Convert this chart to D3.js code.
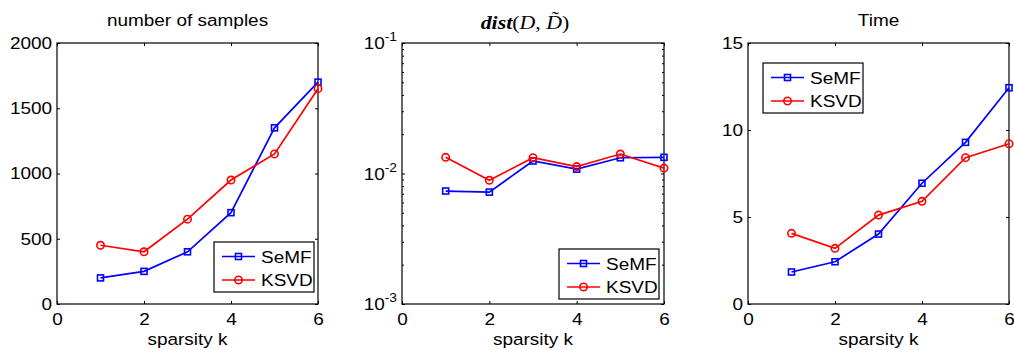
<!DOCTYPE html>
<html>
<head>
<meta charset="utf-8">
<script src="https://cdn.jsdelivr.net/npm/d3@7"></script>
<style>
  body { margin: 0; background: #fff; }
  text { font-family: "Liberation Sans", Arial, sans-serif; fill: #000; }
</style>
</head>
<body>
<div id="chart"></div>
<script>
// sparsity levels on the x axis
const sparsity = [1, 2, 3, 4, 5, 6];
const xTicks = [0, 2, 4, 6];

// number of samples
const samplesSeMF = [200, 250, 400, 700, 1350, 1700];
const samplesKSVD = [450, 400, 650, 950, 1150, 1650];
const samplesTicks = [0, 500, 1000, 1500, 2000];

// dist(D, D~), log scale
const distSeMF = [0.00734, 0.0072, 0.01247, 0.0108, 0.0132, 0.0133];
const distKSVD = [0.0133, 0.00887, 0.0132, 0.0113, 0.0141, 0.0110];
const distTicks = [1e-3, 1e-2, 1e-1];
const distExp = ["-3", "-2", "-1"];

// time
const timeSeMF = [1.84, 2.43, 4.02, 6.94, 9.29, 12.43];
const timeKSVD = [4.06, 3.2, 5.11, 5.9, 8.41, 9.21];
const timeTicks = [0, 5, 10, 15];

const seriesNames = ["SeMF", "KSVD"];
const seriesColors = ["#0000ff", "#ff0000"];

const W = 1014, H = 350;
const plotTop = 43, plotBottom = 304;
const sx = 1.15; // text in the picture is a bit wide
const fs = 16.5;

const svg = d3.select("#chart").append("svg")
  .attr("width", W).attr("height", H);

function stretch(sel) {
  sel.attr("transform", function() {
    const t = d3.select(this).attr("transform") || "";
    return t + ` scale(${sx},1)`;
  });
}

function panel(opts) {
  const x = d3.scaleLinear().domain([0, 6]).range([opts.left, opts.right]);
  const y = opts.log
    ? d3.scaleLog().domain([1e-3, 1e-1]).range([plotBottom, plotTop])
    : d3.scaleLinear().domain(opts.domain).range([plotBottom, plotTop]);

  const g = svg.append("g");

  // box
  g.append("rect")
    .attr("x", opts.left).attr("y", plotTop)
    .attr("width", opts.right - opts.left).attr("height", plotBottom - plotTop)
    .attr("fill", "none").attr("stroke", "#000").attr("stroke-width", 1.2);

  // x axis (inner ticks)
  const xa = g.append("g")
    .attr("transform", `translate(0,${plotBottom})`)
    .call(d3.axisBottom(x).tickValues(xTicks).tickFormat(d3.format("d"))
      .tickSizeInner(-3).tickSizeOuter(0).tickPadding(9));
  g.append("g")
    .attr("transform", `translate(0,${plotTop})`)
    .call(d3.axisTop(x).tickValues(xTicks).tickSizeInner(-3).tickSizeOuter(0).tickFormat(""));

  // y axis
  let yAxis = d3.axisLeft(y).tickSizeInner(-3).tickSizeOuter(0).tickPadding(4.3);
  let yRight = d3.axisRight(y).tickSizeInner(-3).tickSizeOuter(0).tickFormat("");
  if (opts.log) {
    yAxis = yAxis.tickValues(distTicks).tickFormat("");
    yRight = yRight.tickValues(distTicks);
  } else {
    yAxis = yAxis.tickValues(opts.ticks).tickFormat(d3.format("d"));
    yRight = yRight.tickValues(opts.ticks);
  }
  const ya = g.append("g").attr("transform", `translate(${opts.left},0)`).call(yAxis);
  g.append("g").attr("transform", `translate(${opts.right},0)`).call(yRight);

  if (opts.log) {
    const minor = [];
    [1e-3, 1e-2].forEach(b => { for (let m = 2; m <= 9; m++) minor.push(b * m); });
    g.append("g").attr("transform", `translate(${opts.left},0)`)
      .call(d3.axisLeft(y).tickValues(minor).tickSizeInner(-2).tickSizeOuter(0).tickFormat(""));
    g.append("g").attr("transform", `translate(${opts.right},0)`)
      .call(d3.axisRight(y).tickValues(minor).tickSizeInner(-2).tickSizeOuter(0).tickFormat(""));
    // 10^e labels
    distTicks.forEach((v, i) => {
      const t = g.append("text")
        .attr("text-anchor", "end")
        .attr("font-size", fs)
        .attr("transform", `translate(${opts.left - 5},${y(v) + 6})`);
      t.append("tspan").text("10");
      t.append("tspan").attr("dy", -8).attr("font-size", 12).text(distExp[i]);
      stretch(t);
    });
  }

  g.selectAll(".domain").remove();
  g.selectAll(".tick line").attr("stroke", "#000").attr("stroke-width", 1);
  xa.selectAll("text").attr("font-size", fs).attr("font-family", null).call(stretch);
  ya.selectAll("text").attr("font-size", fs).attr("font-family", null).call(stretch);

  // title
  const cx = (opts.left + opts.right) / 2;
  if (opts.log) {
    const t = g.append("text")
      .attr("text-anchor", "middle")
      .attr("font-size", 19)
      .style("font-family", "'Liberation Serif', 'Times New Roman', serif")
      .attr("transform", `translate(${cx - 8},28.5)`);
    t.append("tspan").attr("font-weight", "bold").attr("font-style", "italic").text("dist");
    t.append("tspan").text("(");
    t.append("tspan").attr("font-style", "italic").text("D");
    t.append("tspan").text(", ");
    t.append("tspan").attr("font-style", "italic").text("D\u0303");
    t.append("tspan").text(")");
    stretch(t);
  } else {
    g.append("text").attr("text-anchor", "middle").attr("font-size", fs)
      .attr("transform", `translate(${cx},26)`).text(opts.title).call(stretch);
  }

  // x label
  g.append("text").attr("text-anchor", "middle").attr("font-size", fs)
    .attr("transform", `translate(${cx},345)`).text("sparsity k").call(stretch);

  // series
  const line = d3.line().x((d, i) => x(sparsity[i])).y(d => y(d));
  opts.series.forEach((vals, si) => {
    const c = seriesColors[si];
    g.append("path").datum(vals)
      .attr("d", line).attr("fill", "none")
      .attr("stroke", c).attr("stroke-width", 1.7);
    vals.forEach((v, i) => drawMarker(g, si, x(sparsity[i]), y(v)));
  });

  // legend
  const lw = 100, lh = 50;
  const lx = opts.legend[0], ly = opts.legend[1];
  const lg = g.append("g").attr("transform", `translate(${lx},${ly})`);
  lg.append("rect").attr("width", lw).attr("height", lh)
    .attr("fill", "#fff").attr("stroke", "#000").attr("stroke-width", 1.2);
  seriesNames.forEach((name, si) => {
    const ry = si === 0 ? 14.5 : 38;
    lg.append("line").attr("x1", 8).attr("x2", 41).attr("y1", ry).attr("y2", ry)
      .attr("stroke", seriesColors[si]).attr("stroke-width", 1.7);
    drawMarker(lg, si, 24.5, ry);
    lg.append("text").attr("font-size", fs)
      .attr("transform", `translate(47,${ry + 6})`).text(name).call(stretch);
  });
}

function drawMarker(g, si, cx, cy) {
  if (si === 0) {
    g.append("rect").attr("x", cx - 3).attr("y", cy - 3)
      .attr("width", 6).attr("height", 6)
      .attr("fill", "none").attr("stroke", seriesColors[0]).attr("stroke-width", 1.6);
  } else {
    g.append("circle").attr("cx", cx).attr("cy", cy).attr("r", 3.7)
      .attr("fill", "none").attr("stroke", seriesColors[1]).attr("stroke-width", 1.6);
  }
}

panel({ left: 57, right: 318, title: "number of samples", domain: [0, 2000], ticks: samplesTicks,
        series: [samplesSeMF, samplesKSVD], legend: [214, 242] });
panel({ left: 402, right: 664, log: true,
        series: [distSeMF, distKSVD], legend: [559, 249] });
panel({ left: 748, right: 1009, title: "Time", domain: [0, 15], ticks: timeTicks,
        series: [timeSeMF, timeKSVD], legend: [763, 63] });
</script>
</body>
</html>
